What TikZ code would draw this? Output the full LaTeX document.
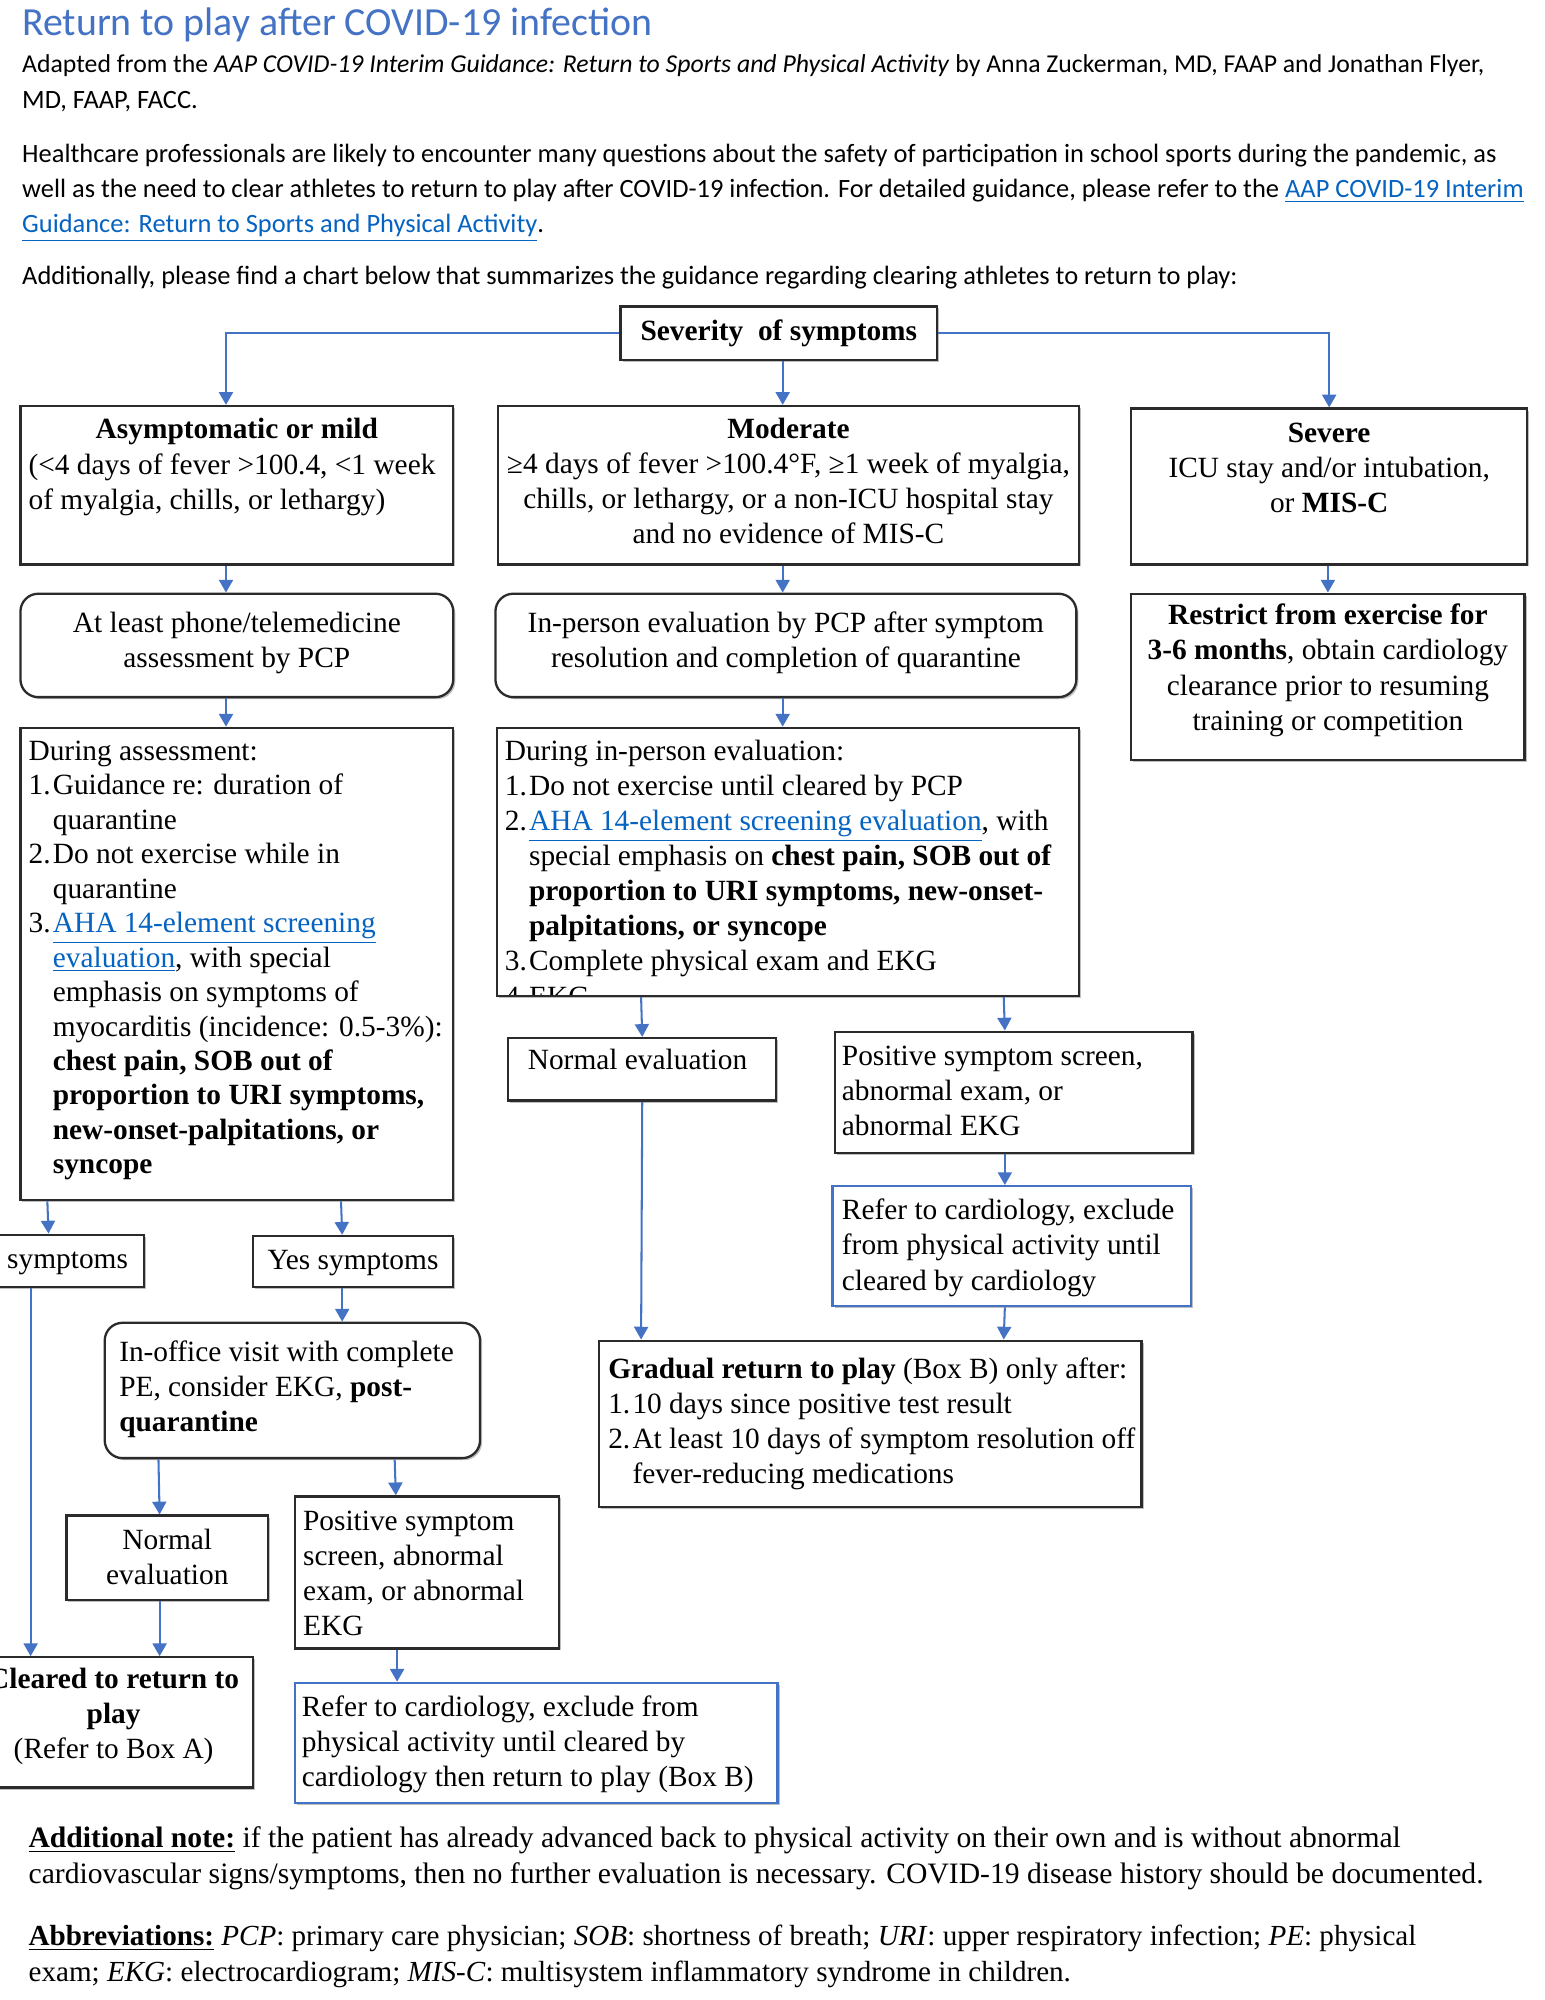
\documentclass[tikz,border=0pt]{standalone}
\usepackage{fontspec}
\setmainfont{Liberation Serif}
\newfontfamily\hdfont{Carlito}
\usetikzlibrary{arrows.meta,calc,fit,shadows}
\definecolor{arrblue}{HTML}{4472C4}
\definecolor{titleblue}{HTML}{4472C4}
\definecolor{linkblue}{HTML}{0563C1}
\definecolor{boxgray}{HTML}{2B2B2B}
\newcommand{\lnk}[1]{\textcolor{linkblue}{\underline{#1}}}
\newcommand{\bxfont}{\fontsize{11.5}{13.75}\selectfont}
\newcommand{\asfont}{\fontsize{11.5}{13.5}\selectfont}
\newcommand{\hdsize}{\hdfont\fontsize{10.35}{12}\selectfont}
\newcommand{\btfont}{\fontsize{11.6}{14}\selectfont}
\newcommand{\nm}[1]{\makebox[9.5pt][l]{#1}}
\newcommand{\ind}{\hspace*{9.5pt}}
\begin{document}
\begin{tikzpicture}[x=0.5pt,y=-0.5pt,
 box/.style={draw=boxgray, line width=0.9pt, fill=white, inner sep=0pt, font=\bxfont,
   drop shadow={shadow xshift=0.8pt,shadow yshift=-0.8pt,fill=black,opacity=0.25}},
 rbox/.style={box, rounded corners=7pt},
 bbox/.style={box, draw=arrblue},
 txtl/.style={inner sep=0pt, font=\bxfont, align=left, anchor=north west},
 txtc/.style={inner sep=0pt, font=\bxfont, align=center, anchor=north},
 txtm/.style={inner sep=0pt, font=\bxfont, anchor=center},
 hd/.style={inner sep=0pt, anchor=base west, font=\hdsize},
 bt/.style={inner sep=0pt, anchor=base west, font=\btfont},
 arr/.style={draw=arrblue, line width=0.8pt, -{Triangle[width=5.5pt,length=5pt]}}]
\clip (0,0) rectangle (1210,1566.4);
\fill[white] (0,0) rectangle (1210,1566.4);

% header
\node[hd, font=\hdfont\fontsize{15.6}{17}\selectfont, text=titleblue] (title) at (17,28) {Return to play after COVID-19 infection};
\node[hd, font=\hdfont\fontsize{10.08}{12}\selectfont] (hd1) at (17,57) {Adapted from the \textit{AAP COVID-19 Interim Guidance: Return to Sports and Physical Activity} by Anna Zuckerman, MD, FAAP and Jonathan Flyer,};
\node[hd] (hd2) at (17,85) {MD, FAAP, FACC.};
\node[hd] (hd3) at (17,127) {Healthcare professionals are likely to encounter many questions about the safety of participation in school sports during the pandemic, as};
\node[hd] (hd4) at (17,155) {well as the need to clear athletes to return to play after COVID-19 infection. For detailed guidance, please refer to the \lnk{AAP COVID-19 Interim}};
\node[hd] (hd5) at (17,182) {\lnk{Guidance: Return to Sports and Physical Activity}.};
\node[hd] (hd6) at (17,223) {Additionally, please find a chart below that summarizes the guidance regarding clearing athletes to return to play:};

% boxes
\node[box, fit={(486,240) (734,282)}] (sev) {};
\node[box, fit={(16,318) (355,442)}] (asym) {};
\node[box, fit={(390,318) (845,442)}] (mod) {};
\node[box, fit={(886,320) (1196,442)}] (severe) {};
\node[rbox, fit={(16,465) (355,546)}] (phone) {};
\node[rbox, fit={(388,465) (843,546)}] (inp) {};
\node[box, fit={(886,465) (1194,595)}] (restrict) {};
\node[box, fit={(16,570) (355,940)}] (assess) {};
\node[box, fit={(389,570) (845,780)}] (during) {};
\node[box, fit={(398,813) (608,862)}] (normM) {};
\node[box, fit={(654,808) (934,903)}] (posM) {};
\node[bbox, fit={(652,929) (933,1023)}] (referM) {};
\node[box, fit={(469,1050) (894,1180)}] (gradual) {};
\node[box, fit={(-41,967) (113,1008)}] (nosym) {};
\node[box, fit={(198,968) (355,1008)}] (yes) {};
\node[rbox, fit={(82,1036) (376,1142)}] (inoffice) {};
\node[box, fit={(52,1187) (210,1253)}] (normL) {};
\node[box, fit={(231,1172) (438,1291)}] (posL) {};
\node[box, fit={(-20,1298) (198,1400)}] (cleared) {};
\node[bbox, fit={(231,1318) (609,1412)}] (referL) {};

% texts
\node[txtm, font=\bxfont\bfseries] (sevT) at (sev.center) {Severity\ \ of symptoms};
\node[txtm] (nosymT) at ($(nosym.center)+(0,1)$) {No symptoms};
\node[txtm] (yesT) at ($(yes.center)+(0,1)$) {Yes symptoms};
\node[txtc] (asymT) at (185.5,323.75) {\strut\textbf{Asymptomatic or mild}};
\node[txtl] (asymB) at (22,351.75) {\strut(<4 days of fever >100.4, <1 week\\of myalgia, chills, or lethargy)};
\node[txtc] (modT) at (617.5,323.75) {\strut\textbf{Moderate}\\≥4 days of fever >100.4°F, ≥1 week of myalgia,\\chills, or lethargy, or a non-ICU hospital stay\\and no evidence of MIS-C};
\node[txtc] (severeT) at (1041,326.75) {\strut\textbf{Severe}\\ICU stay and/or intubation,\\or \textbf{MIS-C}};
\node[txtc] (phoneT) at (185.5,475.75) {\strut At least phone/telemedicine\\assessment by PCP};
\node[txtc] (inpT) at (615.5,475.75) {\strut In-person evaluation by PCP after symptom\\resolution and completion of quarantine};
\node[txtc] (restrictT) at (1040,469.75) {\strut\textbf{Restrict from exercise for}\\\textbf{3-6 months}, obtain cardiology\\clearance prior to resuming\\training or competition};
\node[txtl, font=\asfont] (assessT) at (22,576.1) {\strut During assessment:\\\nm{1.}Guidance re: duration of\\\ind quarantine\\\nm{2.}Do not exercise while in\\\ind quarantine\\\nm{3.}\lnk{AHA 14-element screening}\\\ind\lnk{evaluation}, with special\\\ind emphasis on symptoms of\\\ind myocarditis (incidence: 0.5-3\%):\\\ind\textbf{chest pain, SOB out of}\\\ind\textbf{proportion to URI symptoms,}\\\ind\textbf{new-onset-palpitations, or}\\\ind\textbf{syncope}};
\begin{scope}
\clip (389,570) rectangle (845,779);
\node[txtl] (duringT) at (395,575.75) {\strut During in-person evaluation:\\\nm{1.}Do not exercise until cleared by PCP\\\nm{2.}\lnk{AHA 14-element screening evaluation}, with\\\ind special emphasis on \textbf{chest pain, SOB out of}\\\ind\textbf{proportion to URI symptoms, new-onset-}\\\ind\textbf{palpitations, or syncope}\\\nm{3.}Complete physical exam and EKG\\\nm{4.}EKG};
\end{scope}
\node[txtl] (normMT) at (413,817.75) {\strut Normal evaluation};
\node[txtl] (posMT) at (659,814.75) {\strut Positive symptom screen,\\abnormal exam, or\\abnormal EKG};
\node[txtl] (referMT) at (659,935.75) {\strut Refer to cardiology, exclude\\from physical activity until\\cleared by cardiology};
\node[txtl] (gradualT) at (476,1059.75) {\strut\textbf{Gradual return to play} (Box B) only after:\\\nm{1.}10 days since positive test result\\\nm{2.}At least 10 days of symptom resolution off\\\ind fever-reducing medications};
\node[txtl] (inofficeT) at (93,1046.75) {\strut In-office visit with complete\\PE, consider EKG, \textbf{post-}\\\textbf{quarantine}};
\node[txtc] (normLT) at (131,1193.75) {\strut Normal\\evaluation};
\node[txtl] (posLT) at (237,1178.75) {\strut Positive symptom\\screen, abnormal\\exam, or abnormal\\EKG};
\node[txtc] (clearedT) at (89,1302.75) {\strut\textbf{Cleared to return to}\\\textbf{play}\\(Refer to Box A)};
\node[txtl] (referLT) at (236,1324.75) {\strut Refer to cardiology, exclude from\\physical activity until cleared by\\cardiology then return to play (Box B)};

% bottom notes
\node[bt] (b1) at (22,1447) {\underline{\textbf{Additional note:}} if the patient has already advanced back to physical activity on their own and is without abnormal};
\node[bt] (b2) at (22,1475) {cardiovascular signs/symptoms, then no further evaluation is necessary. COVID-19 disease history should be documented.};
\node[bt, font=\fontsize{11.4}{14}\selectfont] (b3) at (22,1524) {\underline{\textbf{Abbreviations:}} \textit{PCP}: primary care physician; \textit{SOB}: shortness of breath; \textit{URI}: upper respiratory infection; \textit{PE}: physical};
\node[bt, font=\fontsize{11.4}{14}\selectfont] (b4) at (22,1552) {exam; \textit{EKG}: electrocardiogram; \textit{MIS-C}: multisystem inflammatory syndrome in children.};

% connectors
\draw[arr] (sev.west) -| ($(asym.north)+(-8.5,0)$);
\draw[arr] ($(sev.south)+(3,0)$) -- ($(mod.north)+(-4.5,0)$);
\draw[arr] (sev.east) -| (severe.north);
\draw[arr] ($(asym.south)+(-8.5,0)$) -- ($(phone.north)+(-8.5,0)$);
\draw[arr] ($(mod.south)+(-4.5,0)$) -- ($(inp.north)+(-2.5,0)$);
\draw[arr] ($(severe.south)+(-1,0)$) -- (restrict.north);
\draw[arr] ($(phone.south)+(-8.5,0)$) -- ($(assess.north)+(-8.5,0)$);
\draw[arr] ($(inp.south)+(-2.5,0)$) -- ($(during.north)+(-4,0)$);
\draw[arr] ($(assess.south west)+(22,0)$) -- ($(nosym.north)+(2,0)$);
\draw[arr] ($(assess.south west)+(252,0)$) -- ($(yes.north)+(-8.5,0)$);
\draw[arr] ($(nosym.south)+(-12,0)$) -- ($(cleared.north)+(-65,0)$);
\draw[arr] ($(yes.south)+(-8.5,0)$) -- ($(inoffice.north)+(39,0)$);
\draw[arr] ($(inoffice.south west)+(43,0)$) -- ($(normL.north)+(-6,0)$);
\draw[arr] ($(inoffice.south west)+(228,0)$) -- ($(posL.north)+(-24.5,0)$);
\draw[arr] ($(normL.south)+(-6,0)$) -- ($(cleared.north)+(36,0)$);
\draw[arr] ($(posL.south)+(-23.5,0)$) -- ($(referL.north)+(-109,0)$);
\draw[arr] ($(during.south west)+(114,0)$) -- (normM.north);
\draw[arr] ($(during.south west)+(398,0)$) -- ($(posM.north)+(-7,0)$);
\draw[arr] (normM.south) -- ($(gradual.north west)+(34,0)$);
\draw[arr] ($(posM.south)+(-7,0)$) -- ($(referM.north)+(-5.5,0)$);
\draw[arr] ($(referM.south)+(-5.5,0)$) -- ($(gradual.north west)+(318,0)$);
\end{tikzpicture}
\end{document}
